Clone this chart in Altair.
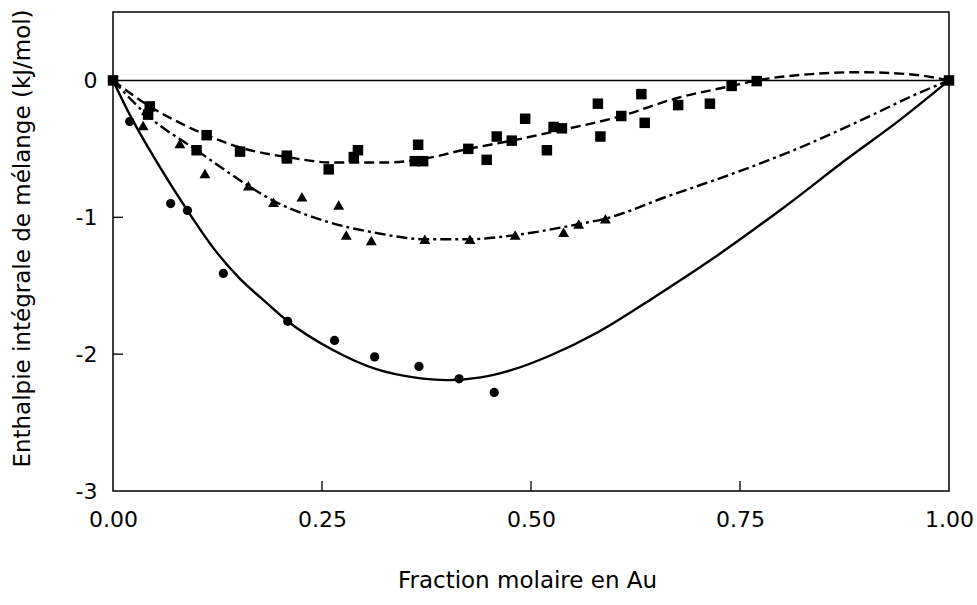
import altair as alt
import pandas as pd

# ---- experimental points ----
sq_x = [0.0, 0.044, 0.042, 0.112, 0.100, 0.152, 0.208, 0.208, 0.258, 0.293, 0.288, 0.365, 0.361, 0.371,
        0.425, 0.447, 0.459, 0.477, 0.493, 0.519, 0.527, 0.537, 0.580, 0.583, 0.608, 0.632, 0.636,
        0.676, 0.714, 0.740, 0.770, 1.0]
sq_y = [0.0, -0.19, -0.25, -0.40, -0.51, -0.52, -0.55, -0.57, -0.65, -0.51, -0.56, -0.47, -0.59, -0.59,
        -0.50, -0.58, -0.41, -0.44, -0.28, -0.51, -0.34, -0.35, -0.17, -0.41, -0.26, -0.10, -0.31,
        -0.18, -0.17, -0.04, -0.005, 0.0]

tri_x = [0.036, 0.040, 0.080, 0.110, 0.162, 0.192, 0.226, 0.270, 0.279, 0.309, 0.373, 0.427, 0.481,
         0.539, 0.557, 0.589]
tri_y = [-0.33, -0.22, -0.46, -0.68, -0.77, -0.89, -0.85, -0.91, -1.13, -1.17, -1.16, -1.16, -1.13,
         -1.11, -1.05, -1.01]

cir_x = [0.020, 0.069, 0.089, 0.132, 0.209, 0.265, 0.313, 0.366, 0.414, 0.456]
cir_y = [-0.30, -0.90, -0.95, -1.41, -1.76, -1.90, -2.02, -2.09, -2.18, -2.28]

# ---- fitted curves ----
solid_x = [0.0, 0.02, 0.044, 0.089, 0.122, 0.152, 0.179, 0.209, 0.263, 0.315, 0.36, 0.40, 0.44, 0.48,
           0.523, 0.58, 0.646, 0.718, 0.802, 0.881, 0.941, 1.0]
solid_y = [0.0, -0.25, -0.51, -0.95, -1.24, -1.45, -1.60, -1.76, -1.97, -2.11, -2.17, -2.19, -2.17,
           -2.11, -2.01, -1.84, -1.59, -1.30, -0.93, -0.56, -0.29, 0.0]

dashdot_x = [0.0, 0.042, 0.1, 0.162, 0.192, 0.24, 0.279, 0.311, 0.373, 0.427, 0.481, 0.557, 0.589,
             0.662, 0.742, 0.822, 0.902, 0.961, 1.0]
dashdot_y = [0.0, -0.26, -0.51, -0.77, -0.88, -1.0, -1.07, -1.11, -1.16, -1.16, -1.13, -1.05, -1.01,
             -0.85, -0.68, -0.49, -0.27, -0.10, 0.0]

dashed_x = [0.0, 0.044, 0.08, 0.112, 0.152, 0.208, 0.263, 0.323, 0.365, 0.425, 0.477, 0.523, 0.608,
            0.674, 0.740, 0.770, 0.822, 0.894, 0.961, 1.0]
dashed_y = [0.0, -0.19, -0.31, -0.40, -0.49, -0.56, -0.60, -0.60, -0.58, -0.50, -0.44, -0.38, -0.26,
            -0.13, -0.04, 0.0, 0.04, 0.06, 0.04, 0.0]

# ---- axis ticks ----
x_ticks = [0.0, 0.25, 0.5, 0.75, 1.0]
y_ticks = [-3, -2, -1, 0]
x_inner_ticks = [0.25, 0.5, 0.75]
y_inner_ticks = [-2, -1]
zero_line = [0]

W, H = 836, 479
FONT = "DejaVu Sans"
X_TITLE = "Fraction molaire en Au"
Y_TITLE = "Enthalpie intégrale de mélange (kJ/mol)"

xs = alt.Scale(domain=[0, 1], nice=False, zero=False)
ys = alt.Scale(domain=[-3, 0.5], nice=False, zero=False)

x_axis = alt.Axis(values=x_ticks, format=".2f", title=X_TITLE, grid=False,
                  domain=False, ticks=False, tickSize=0, labelPadding=18, labelFontSize=22,
                  labelFont=FONT, labelColor="black", titleFont=FONT, titleFontSize=23,
                  titleFontWeight="normal", titleColor="black", titleX=414, titleY=89,
                  titleBaseline="middle", titleAlign="center", labelFlush=False)
y_axis = alt.Axis(values=y_ticks, title=Y_TITLE, grid=False,
                  domain=False, ticks=False, tickSize=0, labelPadding=16, labelFontSize=22,
                  labelFont=FONT, labelColor="black", titleFont=FONT, titleFontSize=23,
                  titleFontWeight="normal", titleColor="black", titleX=-91, titleY=226,
                  titleBaseline="middle", titleAlign="center", titleAngle=-90,
                  labelExpr="replace(datum.label, '\u2212', '-')", labelFlush=False)


def X(field):
    return alt.X(field, scale=xs, axis=x_axis, title=X_TITLE)


def Y(field):
    return alt.Y(field, scale=ys, axis=y_axis, title=Y_TITLE)


def df(xv, yv):
    return pd.DataFrame({"x": xv, "y": yv})


solid = alt.Chart(df(solid_x, solid_y)).mark_line(
    color="black", strokeWidth=2.4, interpolate="monotone").encode(x=X("x:Q"), y=Y("y:Q"))

dashdot = alt.Chart(df(dashdot_x, dashdot_y)).mark_line(
    color="black", strokeWidth=2.4, interpolate="monotone", strokeDash=[11, 4, 3, 4]).encode(
    x=X("x:Q"), y=Y("y:Q"))

dashed = alt.Chart(df(dashed_x, dashed_y)).mark_line(
    color="black", strokeWidth=2.4, interpolate="monotone", strokeDash=[10, 5]).encode(
    x=X("x:Q"), y=Y("y:Q"))

squares = alt.Chart(df(sq_x, sq_y)).mark_point(
    shape="square", filled=True, color="black", size=110, opacity=1).encode(x=X("x:Q"), y=Y("y:Q"))

triangles = alt.Chart(df(tri_x, tri_y)).mark_point(
    shape="triangle-up", filled=True, color="black", size=120, opacity=1).encode(x=X("x:Q"), y=Y("y:Q"))

circles = alt.Chart(df(cir_x, cir_y)).mark_point(
    shape="circle", filled=True, color="black", size=85, opacity=1).encode(x=X("x:Q"), y=Y("y:Q"))

zero = alt.Chart(pd.DataFrame({"y": zero_line})).mark_rule(color="black", strokeWidth=1.5).encode(
    y=Y("y:Q"))

yt = alt.Chart(pd.DataFrame({"y": y_inner_ticks})).mark_rule(color="black", strokeWidth=1.3).encode(
    y=Y("y:Q"), x=alt.value(0), x2=alt.value(10))

xt = alt.Chart(pd.DataFrame({"x": x_inner_ticks})).mark_rule(color="black", strokeWidth=1.3).encode(
    x=X("x:Q"), y=alt.value(H), y2=alt.value(H - 10))

chart = alt.layer(solid, dashdot, dashed, zero, yt, xt, squares, triangles, circles).properties(
    width=W, height=H,
    autosize=alt.AutoSizeParams(type="none"),
    padding={"left": 113, "top": 12, "right": 28, "bottom": 114},
    background="white",
).configure_view(stroke="black", strokeWidth=1.5)

chart.save("out.html", embed_options={"renderer": "svg", "actions": False})
